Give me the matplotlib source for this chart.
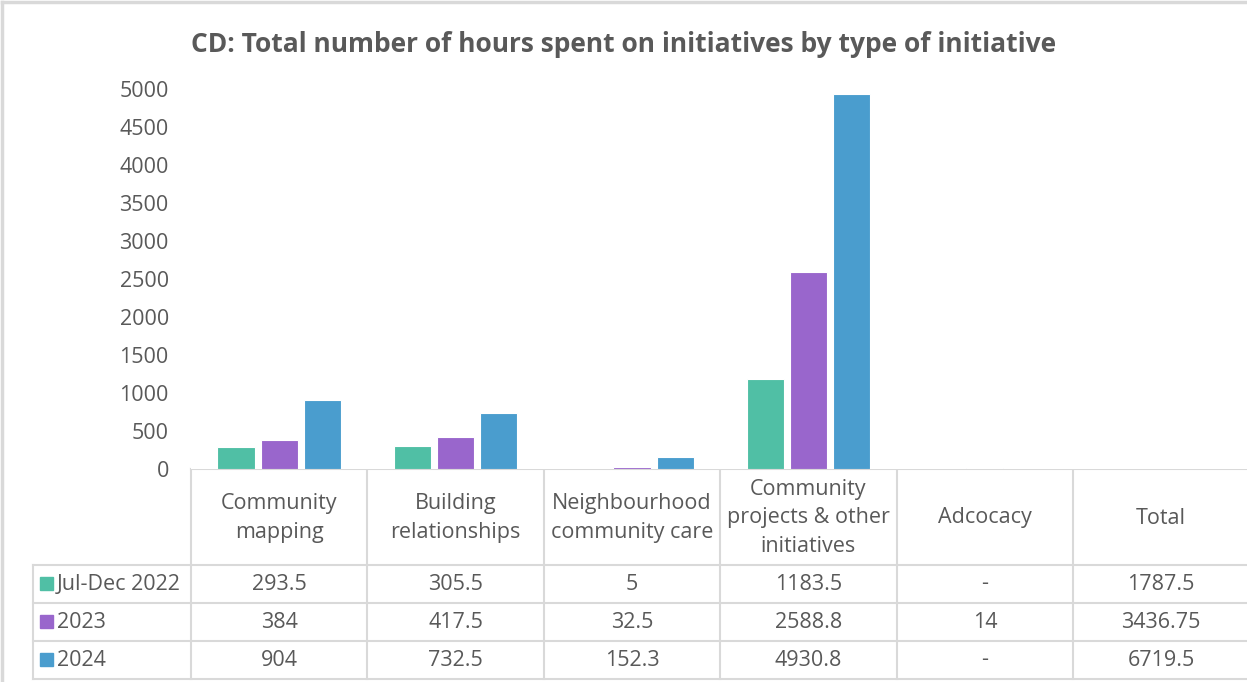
import numpy as np
import matplotlib.pyplot as plt
from matplotlib.patches import Rectangle

plt.rcParams["font.family"] = ["Open Sans", "DejaVu Sans"]

categories = ["Community\nmapping", "Building\nrelationships", "Neighbourhood\ncommunity care",
              "Community\nprojects & other\ninitiatives", "Adcocacy", "Total"]
series = ["Jul-Dec 2022", "2023", "2024"]
# Total column is shown only in the table, not as bars
jul_dec_2022 = [293.5, 305.5, 5, 1183.5, np.nan]
y2023 = [384, 417.5, 32.5, 2588.8, 14]
y2024 = [904, 732.5, 152.3, 4930.8, np.nan]
table_text = [
    ["293.5", "305.5", "5", "1183.5", "-", "1787.5"],
    ["384", "417.5", "32.5", "2588.8", "14", "3436.75"],
    ["904", "732.5", "152.3", "4930.8", "-", "6719.5"],
]
colors = ["#50BFA5", "#9966CC", "#4A9DCE"]
txt = "#595959"
grid = "#D9D9D9"
fs = 15.5

W, H = 1247, 682
fig = plt.figure(figsize=(W / 100, H / 100), dpi=100)

# pixel layout
x0, colw = 191, 176.4
y_zero, y_top = 469, 89
rows_y = [469, 565, 603, 641, 679]
leg_x = 33

ax = fig.add_axes([x0 / W, 1 - y_zero / H, (W - x0) / W, (y_zero - y_top) / H])
ax.set_xlim(0, (W - x0) / colw)
ax.set_ylim(0, 5000)
w, step = 0.21, 0.245
xs = np.arange(len(y2023)) + 0.5
for k, vals in enumerate([jul_dec_2022, y2023, y2024]):
    ax.bar(xs + (k - 1) * step, vals, width=w, color=colors[k], edgecolor="white", linewidth=0.8)
ax.set_yticks(np.arange(0, 5001, 500))
ax.tick_params(axis="y", length=0, pad=16, labelsize=fs, labelcolor=txt)
ax.set_xticks([])
for s in ax.spines.values():
    s.set_visible(False)

# table drawn in pixel coordinates
t = fig.add_axes([0, 0, 1, 1], zorder=-1)
t.set_xlim(0, W)
t.set_ylim(H, 0)
t.axis("off")
ncol = len(categories)
right = x0 + ncol * colw
t.plot([x0, right], [rows_y[0]] * 2, color=grid, lw=1.5)
for r in rows_y[1:]:
    t.plot([leg_x, right], [r, r], color=grid, lw=1.5)
for c in range(ncol + 1):
    t.plot([x0 + c * colw] * 2, [rows_y[0], rows_y[-1]], color=grid, lw=1.5)
t.plot([leg_x, leg_x], [rows_y[1], rows_y[-1]], color=grid, lw=1.5)

hy = (rows_y[0] + rows_y[1]) / 2
for c, name in enumerate(categories):
    t.text(x0 + (c + 0.5) * colw, hy + 1, name, ha="center", va="center",
           fontsize=fs, color=txt, linespacing=1.45)
for r, (name, row) in enumerate(zip(series, table_text)):
    cy = (rows_y[r + 1] + rows_y[r + 2]) / 2
    t.add_patch(Rectangle((leg_x + 7, cy - 7), 13, 13, color=colors[r]))
    t.text(leg_x + 24, cy, name, ha="left", va="center", fontsize=fs, color=txt)
    for c, v in enumerate(row):
        t.text(x0 + (c + 0.5) * colw, cy, v, ha="center", va="center", fontsize=fs, color=txt)

# outer frame
t.plot([2, W], [2, 2], color=grid, lw=2.5)
t.plot([2, 2], [2, H], color=grid, lw=2.5)

fig.text(0.5, 1 - 44 / H, "CD: Total number of hours spent on initiatives by type of initiative",
         ha="center", va="center", fontsize=19, fontweight="bold", color=txt)

fig.savefig("out.png", dpi=100)
